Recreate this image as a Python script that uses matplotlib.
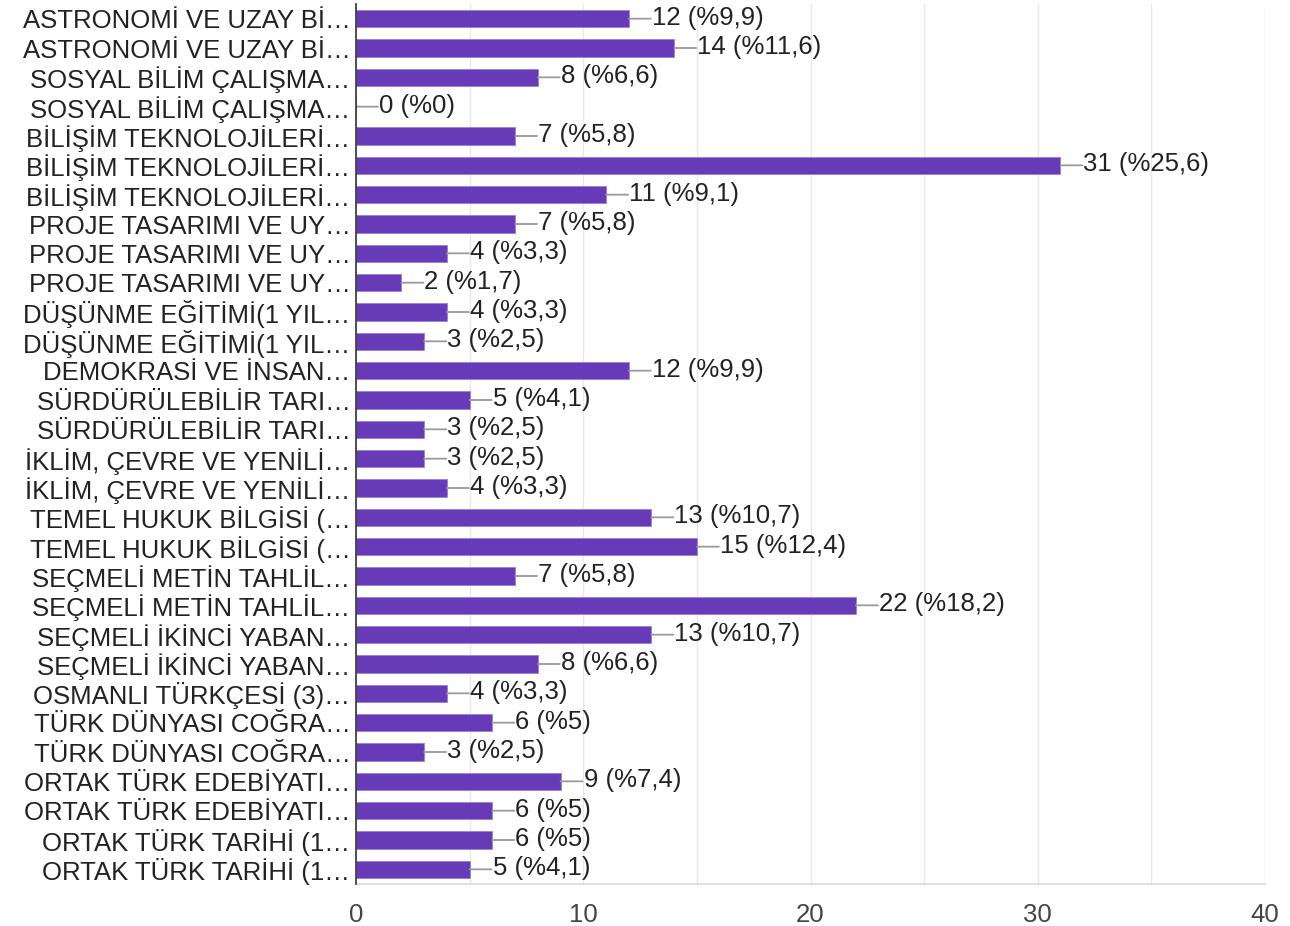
import matplotlib.pyplot as plt
from matplotlib.ticker import MultipleLocator

plt.rcParams['font.family'] = ['Liberation Sans', 'DejaVu Sans']

# Kategorien (gekürzt wie im Original)
labels = [
    "ASTRONOMİ VE UZAY Bİ…", "ASTRONOMİ VE UZAY Bİ…",
    "SOSYAL BİLİM ÇALIŞMA…", "SOSYAL BİLİM ÇALIŞMA…",
    "BİLİŞİM TEKNOLOJİLERİ…", "BİLİŞİM TEKNOLOJİLERİ…", "BİLİŞİM TEKNOLOJİLERİ…",
    "PROJE TASARIMI VE UY…", "PROJE TASARIMI VE UY…", "PROJE TASARIMI VE UY…",
    "DÜŞÜNME EĞİTİMİ(1 YIL…", "DÜŞÜNME EĞİTİMİ(1 YIL…",
    "DEMOKRASİ VE İNSAN…",
    "SÜRDÜRÜLEBİLİR TARI…", "SÜRDÜRÜLEBİLİR TARI…",
    "İKLİM, ÇEVRE VE YENİLİ…", "İKLİM, ÇEVRE VE YENİLİ…",
    "TEMEL HUKUK BİLGİSİ (…", "TEMEL HUKUK BİLGİSİ (…",
    "SEÇMELİ METİN TAHLİL…", "SEÇMELİ METİN TAHLİL…",
    "SEÇMELİ İKİNCİ YABAN…", "SEÇMELİ İKİNCİ YABAN…",
    "OSMANLI TÜRKÇESİ (3)…",
    "TÜRK DÜNYASI COĞRA…", "TÜRK DÜNYASI COĞRA…",
    "ORTAK TÜRK EDEBİYATI…", "ORTAK TÜRK EDEBİYATI…",
    "ORTAK TÜRK TARİHİ (1…", "ORTAK TÜRK TARİHİ (1…",
]

counts = [12, 14, 8, 0, 7, 31, 11, 7, 4, 2, 4, 3, 12, 5, 3, 3, 4,
          13, 15, 7, 22, 13, 8, 4, 6, 3, 9, 6, 6, 5]

percents = ["9,9", "11,6", "6,6", "0", "5,8", "25,6", "9,1", "5,8", "3,3", "1,7",
            "3,3", "2,5", "9,9", "4,1", "2,5", "2,5", "3,3", "10,7", "12,4", "5,8",
            "18,2", "10,7", "6,6", "3,3", "5", "2,5", "7,4", "5", "5", "4,1"]

x_ticks = [0, 10, 20, 30, 40]

FS = 18.5

fig = plt.figure(figsize=(12.9, 9.26), dpi=100)
ax = fig.add_axes([356 / 1290, 42 / 926, (1265 - 356) / 1290, (884 - 4) / 926])

y = list(range(len(labels)))
ax.barh(y, counts, height=0.58, color='#673ab7', edgecolor='#9c7fd6', linewidth=0.6, zorder=3)

# Wertebeschriftung mit kleiner Verbindungslinie
for yi, c, p in zip(y, counts, percents):
    ax.annotate("", xy=(c, yi), xytext=(22, 0), textcoords='offset pixels',
                xycoords='data',
                arrowprops=dict(arrowstyle='-', color='#999999', lw=1.3,
                                shrinkA=0, shrinkB=0), zorder=4)
    ax.annotate(f"{c} (%{p})", xy=(c, yi), xytext=(23, -6), textcoords='offset pixels',
                ha='left', va='baseline', fontsize=FS, color='#222222', zorder=5)

ax.set_ylim(len(labels) - 0.5, -0.5)
ax.set_xlim(0, 40)
ax.set_yticks(y)
ax.set_yticklabels(labels, fontsize=FS, color='#222222', va='center_baseline')
ax.set_xticks(x_ticks)
ax.set_xticklabels([str(t) for t in x_ticks], fontsize=FS, color='#444444')
ax.xaxis.set_minor_locator(MultipleLocator(5))
ax.tick_params(axis='both', which='both', length=0)
ax.tick_params(axis='x', pad=14)
ax.tick_params(axis='y', pad=4)

ax.grid(axis='x', which='both', color='#e8e8e8', lw=1.0, zorder=0)
for s in ['top', 'right']:
    ax.spines[s].set_visible(False)
ax.spines['bottom'].set_color('#e0e0e0')
ax.spines['bottom'].set_linewidth(1.5)
ax.spines['left'].set_color('#333333')
ax.spines['left'].set_linewidth(1.2)
ax.spines['left'].set_zorder(6)

plt.savefig('out.png', dpi=100)
